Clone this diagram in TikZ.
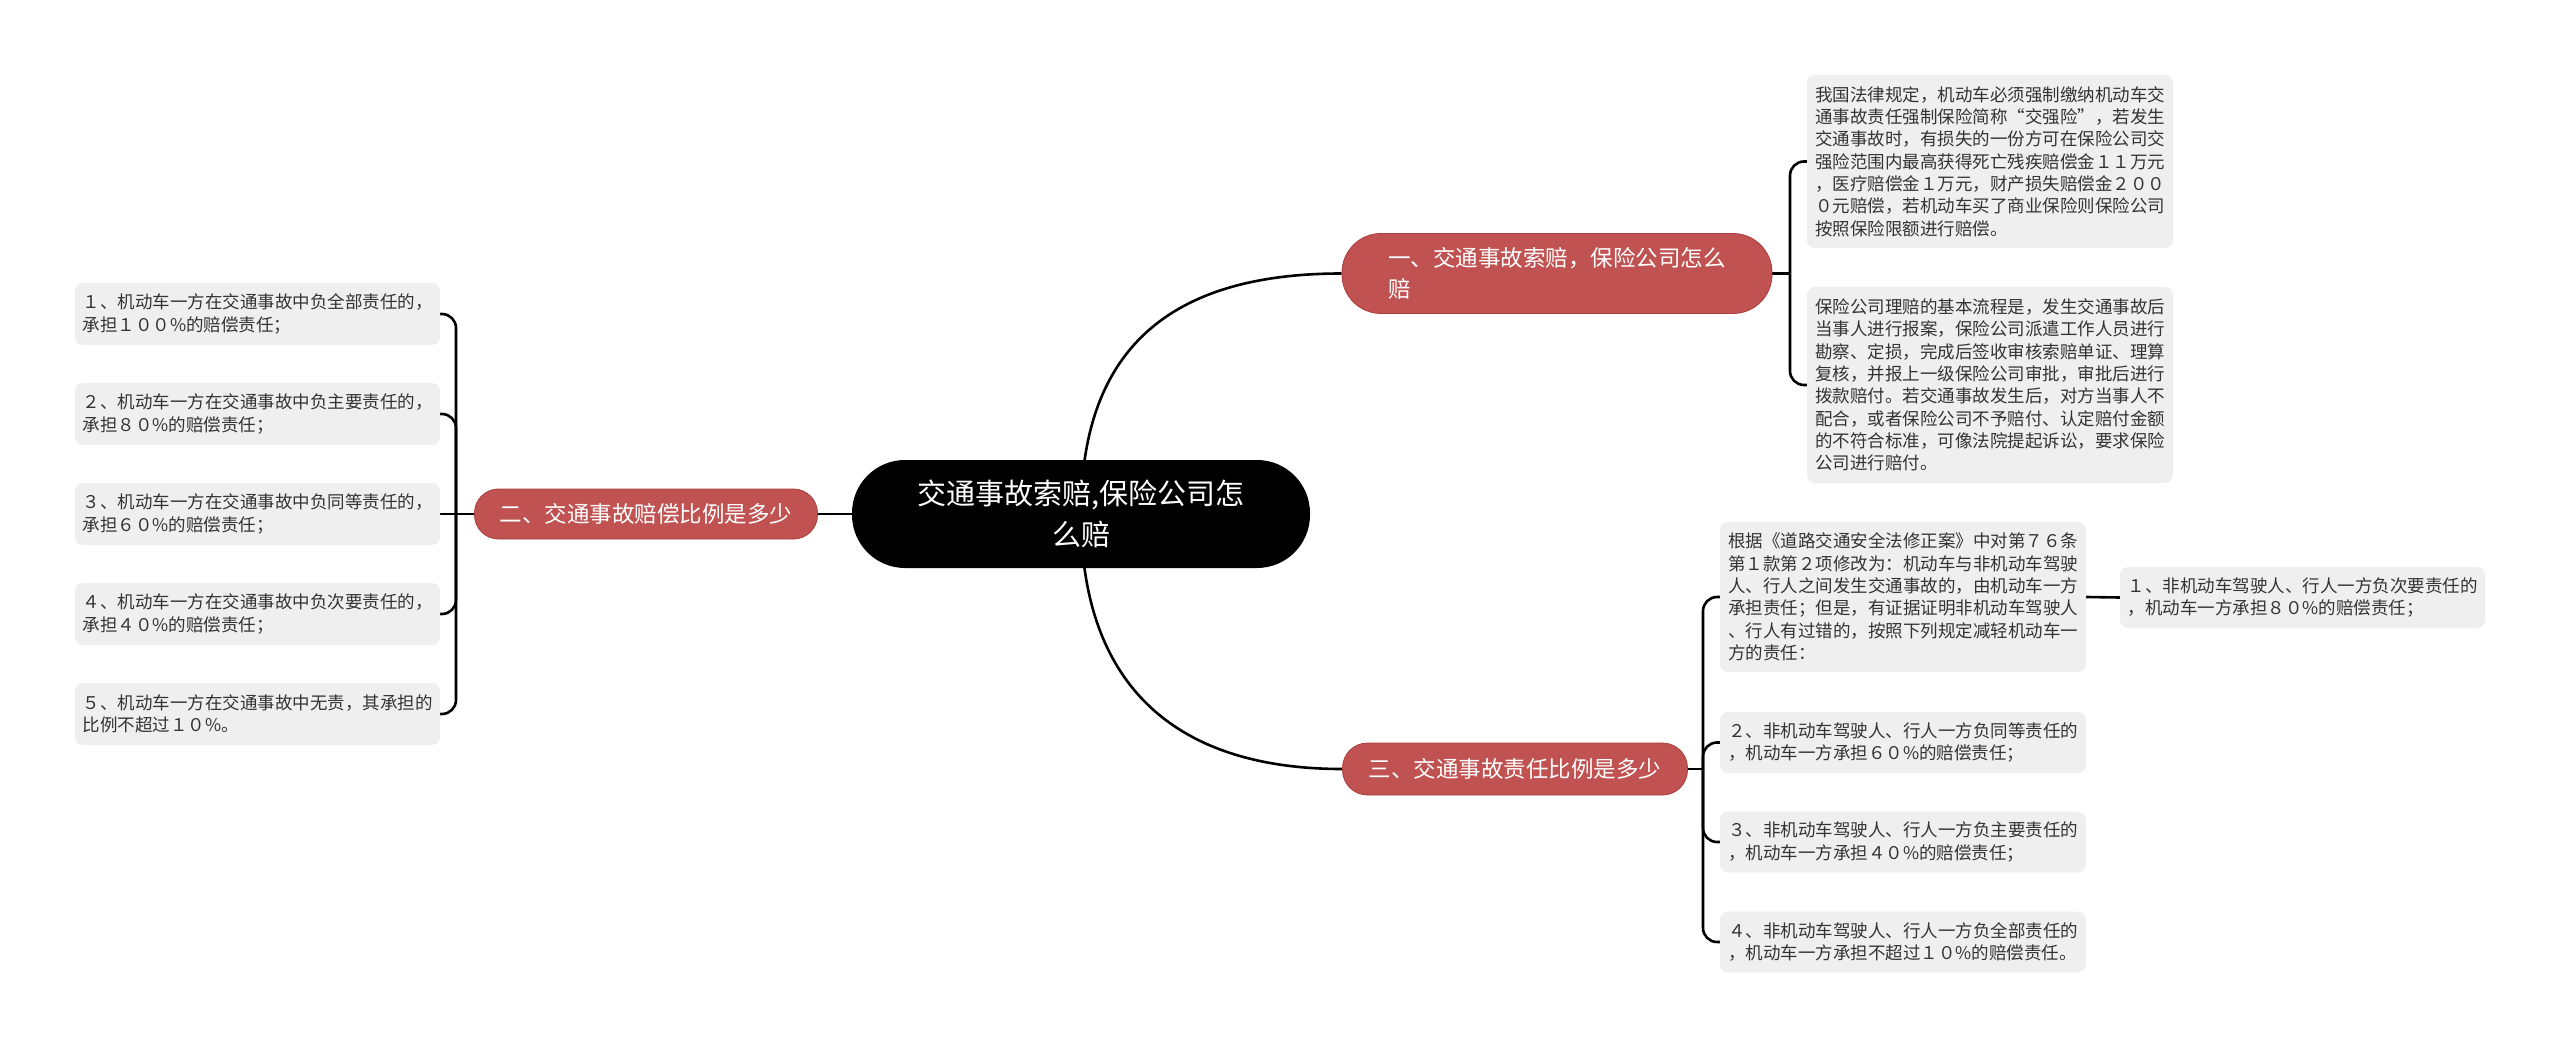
\documentclass[tikz,border=0pt]{standalone}
\usepackage{fontspec}
\setmainfont{Noto Sans CJK SC}
\pgfdeclarelayer{bg}
\pgfsetlayers{bg,main}
\definecolor{boxgray}{RGB}{239,239,239}
\definecolor{txtgray}{RGB}{51,51,51}
\definecolor{topicred}{RGB}{192,82,82}
\definecolor{topicedge}{RGB}{170,60,60}
\tikzset{
  leaf/.style={fill=boxgray, rounded corners=8pt, text=txtgray,
    font=\fontsize{17.5}{22.3}\selectfont, align=left,
    inner xsep=7pt, inner ysep=3pt, minimum width=366pt},
  topic/.style={fill=topicred, draw=topicedge, line width=0.8pt, text=white,
    font=\fontsize{22.5}{31}\selectfont, align=left, inner sep=0pt},
  rootbox/.style={fill=black, text=white, rounded corners=53pt,
    font=\fontsize{29}{41}\selectfont, align=center, inner sep=0pt,
    minimum width=458pt, minimum height=108pt},
  conn/.style={line width=2.6pt, black},
  brace/.style={line width=2.6pt, black, rounded corners=14pt}
}
\begin{document}
\begin{tikzpicture}[x=1pt,y=-1pt]
\useasboundingbox (0,0) rectangle (2560,1048);

% root
\node[rootbox] (root) at (1081,514) {交通事故索赔,保险公司怎\\么赔};

% topics
\node[topic, rounded corners=39pt, minimum width=430pt, minimum height=80pt] (t1) at (1557,273.5)
  {一、交通事故索赔，保险公司怎么\\赔};
\node[topic, rounded corners=24pt, minimum width=343pt, minimum height=50pt] (t2) at (646,514)
  {二、交通事故赔偿比例是多少};
\node[topic, rounded corners=25pt, minimum width=345pt, minimum height=52pt] (t3) at (1515,769)
  {三、交通事故责任比例是多少};

% topic 1 leaves
\node[leaf, minimum height=173pt] (a) at (1990,161.5) {我国法律规定，机动车必须强制缴纳机动车交\\通事故责任强制保险简称“交强险”，若发生\\交通事故时，有损失的一份方可在保险公司交\\强险范围内最高获得死亡残疾赔偿金１１万元\\，医疗赔偿金１万元，财产损失赔偿金２００\\０元赔偿，若机动车买了商业保险则保险公司\\按照保险限额进行赔偿。};
\node[leaf, minimum height=196pt] (b) at (1990,385) {保险公司理赔的基本流程是，发生交通事故后\\当事人进行报案，保险公司派遣工作人员进行\\勘察、定损，完成后签收审核索赔单证、理算\\复核，并报上一级保险公司审批，审批后进行\\拨款赔付。若交通事故发生后，对方当事人不\\配合，或者保险公司不予赔付、认定赔付金额\\的不符合标准，可像法院提起诉讼，要求保险\\公司进行赔付。};

% topic 3 leaves
\node[leaf, minimum height=150pt] (c) at (1903,597) {根据《道路交通安全法修正案》中对第７６条\\第１款第２项修改为：机动车与非机动车驾驶\\人、行人之间发生交通事故的，由机动车一方\\承担责任；但是，有证据证明非机动车驾驶人\\、行人有过错的，按照下列规定减轻机动车一\\方的责任：};
\node[leaf, minimum height=61pt, minimum width=365pt] (g) at (2302.5,597.5) {１、非机动车驾驶人、行人一方负次要责任的\\，机动车一方承担８０\%的赔偿责任；};
\node[leaf, minimum height=61pt] (d) at (1903,742.5) {２、非机动车驾驶人、行人一方负同等责任的\\，机动车一方承担６０\%的赔偿责任；};
\node[leaf, minimum height=61pt] (e) at (1903,842) {３、非机动车驾驶人、行人一方负主要责任的\\，机动车一方承担４０\%的赔偿责任；};
\node[leaf, minimum height=61pt] (f) at (1903,942) {４、非机动车驾驶人、行人一方负全部责任的\\，机动车一方承担不超过１０\%的赔偿责任。};

% topic 2 leaves
\node[leaf, minimum height=62pt, minimum width=365pt] (l1) at (257.5,314) {１、机动车一方在交通事故中负全部责任的，\\承担１００\%的赔偿责任；};
\node[leaf, minimum height=62pt, minimum width=365pt] (l2) at (257.5,414) {２、机动车一方在交通事故中负主要责任的，\\承担８０\%的赔偿责任；};
\node[leaf, minimum height=62pt, minimum width=365pt] (l3) at (257.5,514) {３、机动车一方在交通事故中负同等责任的，\\承担６０\%的赔偿责任；};
\node[leaf, minimum height=62pt, minimum width=365pt] (l4) at (257.5,614) {４、机动车一方在交通事故中负次要责任的，\\承担４０\%的赔偿责任；};
\node[leaf, minimum height=62pt, minimum width=365pt] (l5) at (257.5,714) {５、机动车一方在交通事故中无责，其承担的\\比例不超过１０\%。};

% junction points
\coordinate (j1) at (1790,273.5);
\coordinate (j2) at (456,514);
\coordinate (j3) at (1703,769);

\begin{pgfonlayer}{bg}
  % root to topics
  \draw[conn] (root.center) .. controls (1081,340) and (1180,273.5) .. (t1.west);
  \draw[conn] (root.center) .. controls (1081,690) and (1180,769) .. (t3.west);
  \draw[conn] (root.center) -- (t2.east);
  % topic 1
  \draw[conn] (t1.east) -- (j1);
  \draw[brace] (j1) |- (a.west);
  \draw[brace] (j1) |- (b.west);
  % topic 2
  \draw[conn] (t2.west) -- (j2);
  \draw[brace] (j2) |- (l1.east);
  \draw[brace] (j2) |- (l2.east);
  \draw[conn] (j2) -- (l3.east);
  \draw[brace] (j2) |- (l4.east);
  \draw[brace] (j2) |- (l5.east);
  % topic 3
  \draw[conn] (t3.east) -- (j3);
  \draw[brace] (j3) |- (c.west);
  \draw[brace] (j3) |- (d.west);
  \draw[brace] (j3) |- (e.west);
  \draw[brace] (j3) |- (f.west);
  \draw[conn] (c.east) -- (g.west);
\end{pgfonlayer}
\end{tikzpicture}
\end{document}
